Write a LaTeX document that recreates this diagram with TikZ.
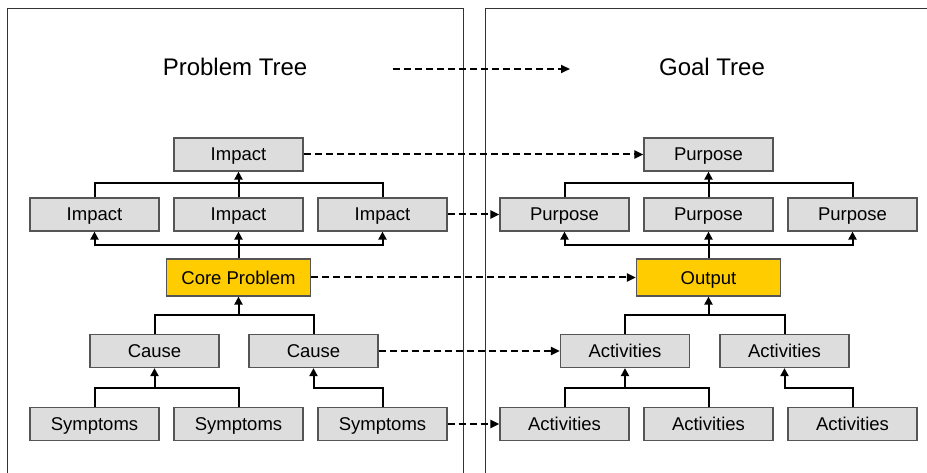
\documentclass[tikz,border=0pt]{standalone}
\usepackage{fontspec}
\setmainfont{Liberation Sans}
\usetikzlibrary{arrows.meta}
\definecolor{boxgray}{HTML}{DDDDDD}
\definecolor{boxedge}{HTML}{555555}
\definecolor{coreyellow}{HTML}{FFCC00}
\tikzset{
  treebox/.style={draw=boxedge, line width=1.2pt, fill=boxgray, minimum width=129pt,
    minimum height=33pt, inner sep=0pt, text height=13pt, text depth=0pt,
    font=\fontsize{18.5}{20}\selectfont},
  corebox/.style={treebox, fill=coreyellow, minimum width=144pt, minimum height=37pt},
  link/.style={line width=2pt, black},
  uparrow/.style={link, -{Triangle[length=8pt,width=8pt]}},
  maplink/.style={line width=2pt, dash pattern=on 7pt off 4pt, -{Triangle[length=9pt,width=8pt]}},
  heading/.style={font=\fontsize{24}{26}\selectfont, inner sep=0pt},
  panel/.style={line width=1pt, black!80}
}
\begin{document}
\begin{tikzpicture}[x=1pt,y=-1pt]
\useasboundingbox (0,0) rectangle (927,473);
\clip (0,0) rectangle (927,473);
\fill[white] (0,0) rectangle (927,473);

% the two panels
\draw[panel] (7,490) -- (7,9) -- (463,9) -- (463,490);
\draw[panel] (485,490) -- (485,9) -- (940,9);

% headings
\node[heading] (ptitle) at (235,67) {Problem Tree};
\node[heading] (gtitle) at (712,67) {Goal Tree};
\coordinate (hs) at (393,69);
\coordinate (he) at (570,69);
\draw[maplink] (hs) -- (he);

% problem tree
\node[treebox] (pt) at (238.5,154.5) {Impact};
\node[treebox] (p1) at (94.5,214.5) {Impact};
\node[treebox] (p2) at (238.5,214.5) {Impact};
\node[treebox] (p3) at (382.5,214.5) {Impact};
\node[corebox] (pc) at (238.5,277.5) {Core Problem};
\node[treebox] (c1) at (154.5,351) {Cause};
\node[treebox] (c2) at (313.5,351) {Cause};
\node[treebox] (s1) at (94.5,424) {Symptoms};
\node[treebox] (s2) at (238.5,424) {Symptoms};
\node[treebox] (s3) at (382.5,424) {Symptoms};

\coordinate (pj1) at (238.5,183);
\coordinate (pj2) at (238.5,245);
\coordinate (pj3) at (238.5,315);
\coordinate (pj4) at (154.5,388);
\coordinate (pj5) at (313.5,388);

\draw[link] (p1.north) |- (pj1) -| (p3.north);
\draw[uparrow] (p2.north) -- (pt.south);
\draw[uparrow] (pc.north) -- (p2.south);
\draw[uparrow] (pj2) -| (p1.south);
\draw[uparrow] (pj2) -| (p3.south);
\draw[link] (c1.north) |- (pj3) -| (c2.north);
\draw[uparrow] (pj3) -- (pc.south);
\draw[link] (s1.north) |- (pj4) -| (s2.north);
\draw[uparrow] (pj4) -- (c1.south);
\draw[uparrow] (s3.north) |- (pj5) -- (c2.south);

% goal tree
\node[treebox] (gt) at (708.5,154.5) {Purpose};
\node[treebox] (g1) at (564.5,214.5) {Purpose};
\node[treebox] (g2) at (708.5,214.5) {Purpose};
\node[treebox] (g3) at (852.5,214.5) {Purpose};
\node[corebox] (go) at (708.5,277.5) {Output};
\node[treebox] (a1) at (625,351) {Activities};
\node[treebox] (a2) at (784.5,351) {Activities};
\node[treebox] (b1) at (564.5,424) {Activities};
\node[treebox] (b2) at (708.5,424) {Activities};
\node[treebox] (b3) at (852.5,424) {Activities};

\coordinate (gj1) at (708.5,183);
\coordinate (gj2) at (708.5,245);
\coordinate (gj3) at (708.5,315);
\coordinate (gj4) at (625,388);
\coordinate (gj5) at (784.5,388);

\draw[link] (g1.north) |- (gj1) -| (g3.north);
\draw[uparrow] (g2.north) -- (gt.south);
\draw[uparrow] (go.north) -- (g2.south);
\draw[uparrow] (gj2) -| (g1.south);
\draw[uparrow] (gj2) -| (g3.south);
\draw[link] (a1.north) |- (gj3) -| (a2.north);
\draw[uparrow] (gj3) -- (go.south);
\draw[link] (b1.north) |- (gj4) -| (b2.north);
\draw[uparrow] (gj4) -- (a1.south);
\draw[uparrow] (b3.north) |- (gj5) -- (a2.south);

% problem-to-goal mapping
\draw[maplink] (pt.east) -- (gt.west);
\draw[maplink] (p3.east) -- (g1.west);
\draw[maplink] (pc.east) -- (go.west);
\draw[maplink] (c2.east) -- (a1.west);
\draw[maplink] (s3.east) -- (b1.west);
\end{tikzpicture}
\end{document}
